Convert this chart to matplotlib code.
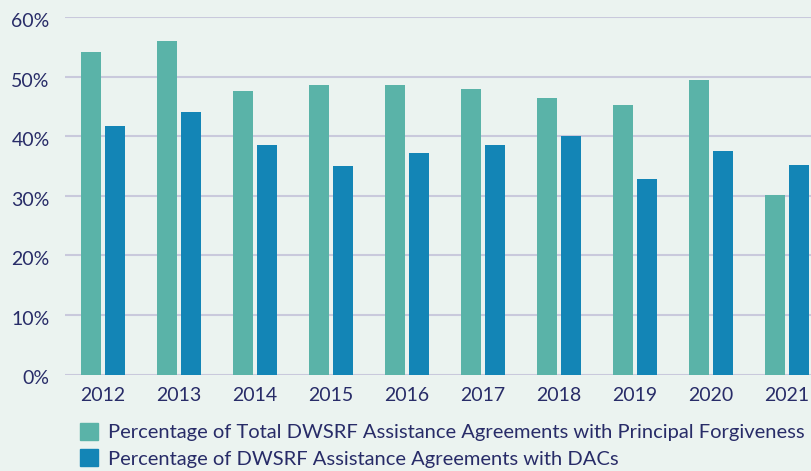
import numpy as np
import matplotlib
matplotlib.use('Agg')
import matplotlib.pyplot as plt
import matplotlib.transforms as mtransforms
from matplotlib.patches import Patch

years = ['2012', '2013', '2014', '2015', '2016', '2017', '2018', '2019', '2020', '2021']
pf_pct = [54.1, 56.0, 47.6, 48.6, 48.6, 47.9, 46.4, 45.2, 49.4, 30.1]
dac_pct = [41.7, 44.1, 38.5, 35.0, 37.2, 38.5, 40.0, 32.8, 37.5, 35.2]
labels = ['Percentage of Total DWSRF Assistance Agreements with Principal Forgiveness',
          'Percentage of DWSRF Assistance Agreements with DACs']

bg = '#ebf3f0'
teal = '#5ab3a8'
blue = '#1385b6'
txt = '#282c68'
grid = '#c9c9dc'

plt.rcParams['font.family'] = ['Lato', 'DejaVu Sans']

fig = plt.figure(figsize=(8.11, 4.71), dpi=100, facecolor=bg)
ax = fig.add_axes([65 / 811, 96.5 / 471, 760 / 811, 357.5 / 471])
ax.set_facecolor(bg)

x = np.arange(len(years))
w = 0.276
ax.bar(x - 0.158, pf_pct, w, color=teal, zorder=3)
ax.bar(x + 0.158, dac_pct, w, color=blue, zorder=3)

ax.set_xlim(-0.5, 9.5)
ax.set_ylim(0, 60)
ax.set_yticks(range(0, 61, 10))
ax.set_yticklabels([f'{v}%' for v in range(0, 61, 10)])
ax.set_xticks(x)
ax.set_xticklabels(years)
ax.yaxis.grid(True, color=grid, linewidth=1.5, zorder=0)
ax.set_axisbelow(True)
for s in ax.spines.values():
    s.set_visible(False)
ax.tick_params(axis='both', length=0, labelsize=14, colors=txt)
ax.tick_params(axis='y', pad=11)
ax.tick_params(axis='x', pad=9)

# labels in the original sit a little below their gridlines
shift = mtransforms.ScaledTranslation(0, -3 / 100, fig.dpi_scale_trans)
for lab in ax.get_yticklabels():
    lab.set_transform(lab.get_transform() + shift)

handles = [Patch(color=teal), Patch(color=blue)]
fig.legend(handles, labels, loc='upper left', bbox_to_anchor=(72 / 811, 1 - 415 / 471),
           frameon=False, fontsize=14.5, labelcolor=txt, handlelength=0.9,
           handleheight=0.9, handletextpad=0.5, labelspacing=0.4, borderaxespad=0)

fig.savefig('out.png', dpi=100, facecolor=bg)
